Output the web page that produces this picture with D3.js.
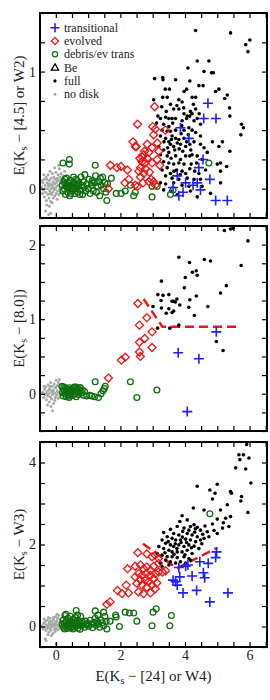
<!DOCTYPE html>
<html>
<head>
<meta charset="utf-8">
<script src="https://cdn.jsdelivr.net/npm/d3@7"></script>
<style>
  body { margin: 0; background: #fff; }
  text { font-family: "Liberation Serif", "Times New Roman", serif; }
</style>
</head>
<body>
<svg id="chart" width="270" height="700"></svg>
<script>
// ---- data ----
// shared x: E(Ks - [24] or W4)
const xTicks = [-0.5, 0, 0.5, 1, 1.5, 2, 2.5, 3, 3.5, 4, 4.5, 5, 5.5, 6, 6.5];
const xLabels = [0, 2, 4, 6];

// panel 1: E(Ks - [4.5] or W2)
const p1Transitional = [[4.71,0.73],[3.86,0.52],[4.58,0.60],[4.96,0.60],[4.12,0.43],[4.56,0.25],[4.43,0.18],[3.76,0.11],
  [4.77,0.08],[3.63,0.01],[4.02,0.05],[4.38,0.05],[4.25,0.03],[4.48,-0.01],[3.94,-0.03],[3.81,-0.06],[4.95,-0.10],[5.31,-0.10]];
const p1Evolved = [[3.06,0.70],[2.53,0.55],[3.08,0.51],[3.39,0.50],[3.03,0.46],[3.00,0.53],[2.39,0.40],[2.49,0.36],[2.46,0.36],
  [2.83,0.38],[3.14,0.39],[2.98,0.35],[3.19,0.32],[2.88,0.31],[2.72,0.29],[2.60,0.26],[2.83,0.26],[2.67,0.23],[2.77,0.22],
  [2.98,0.22],[3.14,0.25],[3.22,0.20],[2.62,0.18],[2.57,0.15],[2.72,0.13],[2.62,0.10],[2.53,0.02],[2.88,0.06],[2.95,0.08],
  [3.03,0.06],[3.08,0.03],[2.70,0.05],[2.46,0.03],[2.14,0.05],[2.26,0.08],[1.69,0.20],[1.89,0.18],[2.02,0.19],[2.22,0.16],
  [1.63,0.00],[2.75,0.32],[2.68,0.27],[2.90,0.14],[2.78,0.17]];
const p1Debris = [[0.22,0.22],[0.42,0.25],[0.42,0.21],[1.22,0.20],[1.58,-0.10],[1.87,-0.04],[2.02,-0.04],[2.15,-0.02],[2.31,0.03],
  [2.46,-0.03],[2.98,-0.07],[3.14,0.02],[3.55,-0.05],[3.63,-0.01],[4.74,0.22],[1.38,0.09],[1.12,0.05],[1.72,0.09],[2.41,-0.06],[2.98,0.02],
  [0.20,0.03],[0.22,-0.02],[0.25,0.06],[0.27,0.00],[0.30,-0.05],[0.31,0.04],[0.33,0.09],[0.35,0.01],[0.37,-0.03],[0.39,0.05],
  [0.41,0.02],[0.43,-0.06],[0.45,0.07],[0.47,0.00],[0.49,0.03],[0.51,-0.02],[0.53,0.05],[0.55,0.10],[0.57,0.01],[0.59,-0.04],
  [0.61,0.04],[0.63,0.00],[0.66,0.07],[0.68,-0.03],[0.70,0.02],[0.72,0.05],[0.75,-0.01],[0.78,0.10],[0.80,0.03],[0.83,-0.05],
  [0.85,0.06],[0.88,0.01],[0.90,0.12],[0.93,-0.02],[0.96,0.04],[1.00,0.00],[1.03,0.08],[1.06,-0.04],[1.10,0.03],[1.13,0.07],
  [1.16,-0.02],[1.20,0.05],[1.23,0.11],[1.26,-0.03],[1.30,0.02],[1.33,0.06],[1.36,-0.06],[1.40,0.03],[1.45,0.10],[1.48,0.00],
  [1.52,0.05],[1.55,-0.03],[1.60,0.04],[0.28,0.08],[0.46,-0.04],[0.62,0.08],[0.74,-0.05],[0.36,0.02],[0.52,0.01],[0.67,0.03]];
const p1Full = [[4.33,1.35],[5.41,1.33],[6.01,1.27],[5.88,1.23],[5.95,1.17],[4.38,1.09],[4.74,1.09],[4.09,1.03],[4.59,1.00],
  [4.82,0.99],[4.88,0.99],[3.06,0.94],[3.31,0.95],[3.32,0.93],[3.71,0.93],[4.15,0.92],[4.43,0.88],[4.56,0.88],[3.39,0.85],
  [3.52,0.85],[5.05,0.85],[4.95,0.83],[3.97,0.83],[4.05,0.85],[5.31,0.80],[3.03,0.76],[3.31,0.78],[3.45,0.78],[3.81,0.76],
  [3.91,0.74],[4.22,0.78],[4.33,0.78],[5.23,0.77],[5.38,0.69],[3.65,0.68],[3.81,0.68],[4.17,0.66],[4.33,0.68],[3.97,0.64],
  [4.07,0.62],[4.15,0.62],[4.22,0.64],[4.44,0.64],[5.39,0.62],[3.16,0.62],[3.24,0.60],[3.40,0.61],[3.50,0.60],[3.60,0.60],
  [3.71,0.60],[3.91,0.58],[4.05,0.60],[4.28,0.58],[4.38,0.60],[4.48,0.55],[5.75,0.55],[5.81,0.52],[5.73,0.46],[3.12,0.56],
  [3.34,0.55],[3.50,0.53],[3.29,0.50],[3.45,0.49],[3.55,0.49],[3.71,0.50],[3.97,0.50],[4.12,0.52],[4.22,0.50],[4.33,0.48],
  [4.48,0.45],[4.85,0.40],[5.16,0.40],[5.05,0.36],[5.39,0.32],[3.24,0.45],[3.40,0.43],[3.50,0.40],[3.60,0.45],[3.71,0.43],
  [3.81,0.42],[3.97,0.43],[3.55,0.38],[3.65,0.36],[3.76,0.39],[3.86,0.38],[4.02,0.36],[4.15,0.38],[4.48,0.38],[4.59,0.35],
  [3.19,0.36],[3.34,0.33],[3.50,0.31],[3.24,0.29],[3.45,0.28],[3.57,0.26],[3.71,0.28],[3.86,0.25],[4.02,0.28],[4.15,0.28],
  [4.22,0.29],[4.38,0.28],[4.53,0.25],[4.69,0.31],[3.34,0.23],[3.50,0.22],[3.65,0.21],[3.81,0.22],[3.97,0.21],[4.19,0.21],
  [4.36,0.22],[5.00,0.21],[5.10,0.22],[5.29,0.19],[3.29,0.16],[3.45,0.18],[3.55,0.13],[3.74,0.16],[3.91,0.15],[4.02,0.13],
  [4.15,0.17],[4.43,0.13],[4.64,0.16],[5.10,0.15],[3.40,0.11],[3.60,0.09],[3.81,0.08],[4.07,0.09],[4.28,0.08],[4.48,0.08],
  [3.24,0.05],[3.65,0.05],[3.91,0.03],[4.12,0.02],[4.53,0.02],[5.10,0.05],[3.34,-0.01],[3.55,-0.02],[3.76,-0.05],[4.17,-0.02],
  [4.79,-0.04],[4.38,-0.07],[3.62,0.56],[3.88,0.47],[4.10,0.46],[3.68,0.33],[3.93,0.32],[4.28,0.40],[3.42,0.66],[3.75,0.71],
  [3.35,0.40],[3.58,0.42],[3.82,0.34],[4.05,0.40],[3.28,0.70],[3.55,0.72],[3.96,0.69],[4.26,0.72],[3.46,0.35],[3.90,0.54],
  [4.18,0.33],[3.66,0.15],[3.85,0.12],[4.30,0.15],[3.40,0.04]];
const p1NoDisk = [[-0.44,0.01],[-0.41,-0.04],[-0.40,0.05],[-0.38,-0.01],[-0.36,0.08],[-0.35,-0.07],[-0.33,0.03],[-0.31,-0.03],
  [-0.30,0.10],[-0.29,-0.10],[-0.27,0.05],[-0.26,0.00],[-0.25,-0.05],[-0.24,0.12],[-0.22,0.02],[-0.21,-0.08],[-0.20,0.07],
  [-0.19,-0.02],[-0.18,0.15],[-0.17,0.04],[-0.16,-0.11],[-0.15,0.00],[-0.14,0.09],[-0.13,-0.05],[-0.12,0.03],[-0.11,0.13],
  [-0.10,-0.03],[-0.09,0.06],[-0.08,-0.08],[-0.07,0.01],[-0.06,0.10],[-0.05,-0.01],[-0.04,0.04],[-0.03,-0.06],[-0.02,0.08],
  [-0.01,0.00],[0.00,0.14],[0.01,-0.04],[0.02,0.05],[0.03,0.02],[0.04,-0.09],[0.05,0.09],[0.06,-0.02],[0.07,0.12],[0.08,0.03],
  [0.09,-0.05],[0.10,0.07],[0.11,0.17],[0.12,0.00],[0.13,0.10],[0.14,0.05],[0.15,-0.03],[0.16,0.13],[0.18,0.08],[0.20,0.02],
  [0.22,0.11],[0.25,0.06],[0.27,0.15],[-0.37,0.12],[-0.28,-0.14],[-0.20,-0.15],[-0.12,-0.12],[-0.04,0.18],[0.09,0.20],
  [-0.32,-0.19],[-0.22,-0.22],[-0.16,-0.21],[-0.43,0.07],[-0.34,0.00],[-0.23,0.04],[-0.11,0.01],[-0.06,0.05],[0.04,0.07],
  [-0.18,-0.04],[-0.28,0.08]];

// panel 2: E(Ks - [8.0])
const p2Transitional = [[4.97,0.83],[3.79,0.55],[4.43,0.47],[4.07,-0.24]];
const p2Evolved = [[2.54,1.21],[2.82,1.02],[2.59,0.92],[2.98,0.83],[2.75,0.74],[2.59,0.69],[2.98,0.62],[2.59,0.56],
  [2.62,0.50],[2.03,0.45],[2.15,0.49],[1.63,0.21]];
const p2Debris = [[0.19,0.10],[0.21,0.02],[0.23,-0.03],[0.26,0.05],[0.28,0.00],[0.30,0.08],[0.32,-0.04],[0.34,0.03],[0.36,0.06],
  [0.38,-0.01],[0.40,0.02],[0.42,0.08],[0.44,-0.03],[0.46,0.04],[0.48,0.01],[0.50,0.06],[0.52,-0.02],[0.54,0.03],[0.57,0.09],
  [0.59,0.00],[0.61,0.05],[0.63,-0.04],[0.66,0.02],[0.68,0.07],[0.70,-0.01],[0.73,0.04],[0.76,0.08],[0.79,0.01],[0.82,0.05],
  [0.86,-0.02],[0.89,0.03],[0.25,0.09],[0.41,-0.05],[0.55,0.08],[0.63,0.09],[0.75,0.08],[1.22,0.16],[2.31,0.16],[3.13,0.05],
  [2.51,-0.05],[1.53,0.10],[1.46,0.04],[1.32,-0.05],[1.11,-0.03],[0.96,-0.03],[1.40,0.00],[1.50,0.07],[1.20,-0.04],[1.05,-0.02]];
const p2Full = [[5.22,2.19],[5.41,2.21],[5.49,2.22],[5.95,2.05],[3.81,1.83],[4.14,1.76],[4.60,1.80],[4.79,1.78],[5.74,1.72],
  [4.23,1.63],[4.35,1.65],[4.38,1.59],[4.01,1.56],[3.27,1.51],[5.28,1.45],[3.98,1.42],[5.10,1.35],[3.16,1.33],[3.32,1.32],
  [3.50,1.33],[3.75,1.27],[4.15,1.26],[4.35,1.31],[3.26,1.25],[3.60,1.24],[3.65,1.24],[3.70,1.23],[3.84,1.19],[3.01,1.17],
  [3.27,1.15],[3.50,1.14],[4.12,1.16],[4.71,1.17],[3.42,1.08],[3.60,1.09],[3.65,1.11],[4.29,1.05],[3.15,0.88],[3.53,0.88],
  [3.81,0.92],[4.97,0.70],[5.18,0.58]];
const p2NoDisk = [[-0.40,0.02],[-0.37,-0.05],[-0.35,0.06],[-0.33,-0.01],[-0.31,0.09],[-0.29,-0.08],[-0.27,0.03],[-0.25,-0.03],
  [-0.24,0.12],[-0.22,0.00],[-0.20,-0.11],[-0.19,0.07],[-0.17,-0.04],[-0.16,0.15],[-0.14,0.02],[-0.13,-0.07],[-0.11,0.10],
  [-0.10,-0.01],[-0.08,0.05],[-0.07,-0.13],[-0.05,0.13],[-0.04,0.01],[-0.02,-0.05],[-0.01,0.08],[0.01,0.18],[0.02,-0.02],
  [0.04,0.04],[0.05,0.11],[0.07,-0.06],[0.08,0.15],[0.10,0.02],[0.11,0.19],[0.13,0.07],[0.15,-0.01],[0.17,0.12],[0.19,0.05],
  [-0.30,0.00],[-0.21,0.05],[-0.12,0.04],[-0.03,-0.09],[0.06,0.01],[-0.26,-0.15],[-0.15,-0.17],[-0.10,-0.23],[-0.36,0.10],
  [0.00,0.09],[-0.18,0.10],[0.12,-0.03],[-0.06,0.02]];
const p2Dash = [[2.72,1.27],[3.30,0.90],[5.60,0.90]];

// panel 3: E(Ks - W3)
const p3Transitional = [[4.98,1.82],[4.95,1.68],[4.72,1.54],[4.46,1.58],[4.02,1.47],[4.09,1.50],[4.57,1.31],[4.61,1.19],
  [4.22,1.23],[3.84,1.21],[3.63,1.13],[3.71,1.09],[3.76,1.01],[4.36,0.88],[3.94,0.82],[5.33,0.82],[4.77,0.60],[3.81,1.44]];
const p3Evolved = [[2.54,1.80],[2.82,1.77],[2.98,1.70],[3.08,1.74],[3.18,1.66],[2.22,1.41],[2.46,1.47],[2.62,1.50],[2.72,1.41],
  [2.82,1.45],[2.93,1.37],[3.03,1.47],[2.56,1.29],[2.67,1.25],[2.80,1.29],[2.93,1.25],[3.08,1.29],[2.46,1.21],[2.62,1.14],
  [2.77,1.13],[2.87,1.09],[3.03,1.17],[3.13,1.06],[2.51,1.05],[2.67,1.01],[2.82,0.96],[2.98,1.01],[3.08,0.92],[1.91,0.88],
  [2.18,1.01],[2.05,0.80],[2.25,0.82],[2.56,0.84],[2.72,0.80],[2.93,0.82],[1.68,0.60],[1.58,0.54],[3.18,1.33],[3.18,1.54],
  [3.30,1.33],[3.40,1.36]];
const p3Debris = [[0.20,0.05],[0.22,0.15],[0.24,-0.02],[0.26,0.08],[0.28,0.27],[0.30,0.00],[0.32,0.12],[0.34,0.04],[0.36,-0.05],
  [0.38,0.20],[0.40,0.07],[0.42,0.01],[0.44,0.14],[0.46,-0.03],[0.48,0.09],[0.50,0.04],[0.52,0.17],[0.54,-0.01],[0.56,0.10],
  [0.58,0.05],[0.60,0.22],[0.62,0.00],[0.64,0.12],[0.66,0.06],[0.68,-0.04],[0.70,0.15],[0.72,0.03],[0.74,0.09],[0.77,0.25],
  [0.80,0.02],[0.83,0.11],[0.86,0.06],[0.89,-0.02],[0.92,0.13],[0.95,0.04],[0.98,0.08],[1.02,0.01],[1.06,0.15],[1.10,0.06],
  [1.14,-0.03],[1.18,0.10],[1.22,0.20],[1.25,0.03],[1.28,0.12],[1.32,0.07],[1.36,-0.02],[1.40,0.16],[1.44,0.09],[1.48,0.02],
  [1.52,0.25],[1.56,0.12],[0.31,0.30],[0.45,0.25],[0.67,0.28],[1.30,0.28],[0.27,-0.06],[0.53,-0.06],[0.75,-0.07],
  [0.63,0.39],[1.22,0.38],[1.48,0.35],[1.68,0.13],[1.87,0.23],[1.58,-0.06],[1.97,0.00],[2.15,0.35],[2.28,0.33],[2.41,0.33],
  [2.51,0.13],[2.98,0.02],[3.11,0.43],[3.01,0.35],[3.58,0.27],[3.53,0.02],[4.77,2.75],[1.85,0.28]];
const p3Full = [[5.91,4.44],[5.67,4.19],[5.81,4.19],[5.70,4.07],[5.98,4.11],[5.57,3.87],[5.88,3.84],[6.04,3.50],[5.00,3.47],
  [4.38,3.42],[4.77,3.33],[4.93,3.25],[5.41,3.29],[5.44,3.25],[4.85,3.11],[5.75,3.17],[5.73,3.06],[5.31,2.97],[5.10,2.84],
  [4.26,2.89],[4.59,2.84],[5.26,2.64],[5.41,2.68],[5.95,2.78],[3.91,2.70],[4.07,2.60],[5.00,2.62],[5.19,2.53],[5.36,2.44],
  [5.16,2.40],[3.84,2.56],[4.28,2.48],[4.38,2.42],[4.17,2.44],[4.48,2.35],[4.69,2.31],[4.90,2.34],[5.00,2.27],[3.76,2.44],
  [3.97,2.40],[3.55,2.37],[3.65,2.27],[3.81,2.23],[4.07,2.27],[4.22,2.23],[4.38,2.19],[4.59,2.15],[4.74,2.19],[3.34,2.29],
  [3.45,2.19],[3.60,2.15],[3.71,2.11],[3.86,2.11],[4.02,2.13],[4.17,2.11],[4.33,2.07],[4.48,2.11],[3.29,2.11],[3.40,2.03],
  [3.55,1.99],[3.65,1.95],[3.81,1.99],[3.97,1.95],[4.12,1.99],[4.28,1.96],[4.43,1.90],[3.19,1.95],[3.34,1.90],[3.50,1.86],
  [3.60,1.82],[3.76,1.82],[3.91,1.82],[4.07,1.86],[4.22,1.78],[3.14,1.78],[3.29,1.74],[3.45,1.70],[3.60,1.70],[3.76,1.68],
  [3.97,1.70],[4.12,1.66],[3.40,1.62],[3.55,1.58],[3.71,1.55],[3.86,1.58],[3.24,1.54],[3.29,1.46],[3.50,1.50],[4.02,1.54],
  [4.17,1.62],[3.70,2.02],[3.88,2.05],[4.05,2.05],[3.93,2.32],[4.12,2.35],[4.30,2.30],[3.48,2.07],[3.75,1.90],[4.20,1.92],
  [4.55,2.25],[4.62,2.45],[4.85,2.50],[3.92,2.18],[4.52,2.02],[3.38,1.80],[4.00,1.75],[3.66,1.76],[4.32,2.38]];
const p3NoDisk = [[-0.42,0.02],[-0.39,-0.06],[-0.37,0.08],[-0.35,-0.02],[-0.33,0.12],[-0.31,-0.10],[-0.29,0.04],[-0.27,-0.04],
  [-0.26,0.16],[-0.24,0.00],[-0.22,-0.14],[-0.21,0.09],[-0.19,-0.05],[-0.18,0.20],[-0.16,0.03],[-0.15,-0.09],[-0.13,0.13],
  [-0.12,-0.01],[-0.10,0.07],[-0.09,-0.17],[-0.07,0.17],[-0.06,0.01],[-0.04,-0.07],[-0.03,0.10],[-0.01,0.24],[0.00,-0.03],
  [0.02,0.05],[0.03,0.14],[0.05,-0.08],[0.06,0.20],[0.08,0.03],[0.09,0.27],[0.11,0.09],[0.13,-0.02],[0.15,0.15],[0.17,0.06],
  [-0.30,0.00],[-0.20,0.06],[-0.11,0.05],[-0.02,-0.12],[0.07,0.01],[-0.25,-0.20],[-0.14,-0.22],[-0.36,0.18],[0.01,0.11],
  [-0.17,0.13],[0.12,-0.05],[-0.05,0.03],[-0.33,-0.30],[-0.30,-0.34],[0.01,-0.42],[-0.08,0.22],[-0.23,0.22],[0.04,0.30]];
const p3Dash = [[2.70,2.02],[3.75,1.42],[5.00,1.92]];

// ---- layout ----
const svg = d3.select("#chart");
const left = 40, right = 267, ph = 205;
const x = d3.scaleLinear().domain([-0.49, 6.54]).range([left, right]);

const colors = {trans: "#1f1fff", evolved: "#f01414", debris: "#0f6e0f", full: "#000", nodisk: "#a8a8a8"};
const FONT = '"Liberation Serif", "Times New Roman", serif';

function steps(a, b, s) {
  const n = Math.round((b - a) / s);
  return d3.range(n + 1).map(i => +(a + i * s).toFixed(3));
}

const panels = [
  {top: 13, dom: [-0.25, 1.5], step: 0.25, labels: [0, 1], ytxt: " \u2212 [4.5] or W2)",
   tr: p1Transitional, ev: p1Evolved, db: p1Debris, fu: p1Full, nd: p1NoDisk, dash: null},
  {top: 226, dom: [-0.5, 2.25], step: 0.25, labels: [0, 1, 2], ytxt: " \u2212 [8.0])",
   tr: p2Transitional, ev: p2Evolved, db: p2Debris, fu: p2Full, nd: p2NoDisk, dash: p2Dash},
  {top: 442, dom: [-0.5, 4.5], step: 0.5, labels: [0, 2, 4], ytxt: " \u2212 W3)",
   tr: p3Transitional, ev: p3Evolved, db: p3Debris, fu: p3Full, nd: p3NoDisk, dash: p3Dash}
];

const diamond = s => `M0,${-s}L${s},0L0,${s}L${-s},0Z`;
const plus = s => `M${-s},0H${s}M0,${-s}V${s}`;

panels.forEach((p, i) => {
  const y = d3.scaleLinear().domain(p.dom).range([p.top + ph, p.top]);
  const g = svg.append("g");
  const clipId = "clip" + i;
  svg.append("clipPath").attr("id", clipId).append("rect")
    .attr("x", left).attr("y", p.top).attr("width", right - left).attr("height", ph);
  const plot = g.append("g").attr("clip-path", `url(#${clipId})`);

  if (p.dash) {
    plot.append("path")
      .attr("d", d3.line().x(d => x(d[0])).y(d => y(d[1]))(p.dash))
      .attr("fill", "none").attr("stroke", colors.evolved)
      .attr("stroke-width", 2.5).attr("stroke-dasharray", "9,5");
  }

  plot.selectAll(".fu").data(p.fu).join("circle")
    .attr("cx", d => x(d[0])).attr("cy", d => y(d[1])).attr("r", 1.8).attr("fill", colors.full);
  plot.selectAll(".nd").data(p.nd).join("circle")
    .attr("cx", d => x(d[0])).attr("cy", d => y(d[1])).attr("r", 1.5).attr("fill", colors.nodisk);
  plot.selectAll(".db").data(p.db).join("circle")
    .attr("cx", d => x(d[0])).attr("cy", d => y(d[1])).attr("r", 2.9)
    .attr("fill", "none").attr("stroke", colors.debris).attr("stroke-width", 1.3);
  plot.selectAll(".ev").data(p.ev).join("path")
    .attr("transform", d => `translate(${x(d[0])},${y(d[1])})`).attr("d", diamond(4))
    .attr("fill", "none").attr("stroke", colors.evolved).attr("stroke-width", 1.3);
  plot.selectAll(".tr").data(p.tr).join("path")
    .attr("transform", d => `translate(${x(d[0])},${y(d[1])})`).attr("d", plus(5))
    .attr("fill", "none").attr("stroke", colors.trans).attr("stroke-width", 1.6);

  // axes, ticks pointing inward on all four sides
  const yTicks = steps(p.dom[0], p.dom[1], p.step);
  const yFmt = v => p.labels.includes(v) ? d3.format("d")(v) : "";
  const xFmt = v => (i === 2 && xLabels.includes(v)) ? d3.format("d")(v) : "";
  const axes = [
    g.append("g").attr("transform", `translate(${left},0)`)
      .call(d3.axisLeft(y).tickValues(yTicks).tickSizeInner(-5).tickSizeOuter(0).tickPadding(4).tickFormat(yFmt)),
    g.append("g").attr("transform", `translate(${right},0)`)
      .call(d3.axisRight(y).tickValues(yTicks).tickSizeInner(-5).tickSizeOuter(0).tickFormat("")),
    g.append("g").attr("transform", `translate(0,${p.top + ph})`)
      .call(d3.axisBottom(x).tickValues(xTicks).tickSizeInner(-5).tickSizeOuter(0).tickPadding(3).tickFormat(xFmt)),
    g.append("g").attr("transform", `translate(0,${p.top})`)
      .call(d3.axisTop(x).tickValues(xTicks).tickSizeInner(-5).tickSizeOuter(0).tickFormat(""))
  ];
  axes.forEach(a => {
    a.select(".domain").remove();
    a.selectAll(".tick line").attr("stroke", "#000").attr("stroke-width", 1.2);
    a.selectAll(".tick text").attr("font-size", 14).attr("fill", "#222").style("font-family", FONT);
  });

  g.append("rect").attr("x", left).attr("y", p.top).attr("width", right - left).attr("height", ph)
    .attr("fill", "none").attr("stroke", "#000").attr("stroke-width", 2);

  // y title
  const t = g.append("text")
    .attr("transform", `translate(24,${p.top + ph / 2}) rotate(-90)`)
    .attr("text-anchor", "middle").attr("font-size", 15).attr("fill", "#222");
  t.append("tspan").text("E(K");
  t.append("tspan").attr("font-size", 10).attr("dy", 3).text("s");
  t.append("tspan").attr("dy", -3).text(p.ytxt);
});

// x title
const xt = svg.append("text").attr("x", (left + right) / 2).attr("y", 681)
  .attr("text-anchor", "middle").attr("font-size", 15).attr("fill", "#222");
xt.append("tspan").text("E(K");
xt.append("tspan").attr("font-size", 10).attr("dy", 3).text("s");
xt.append("tspan").attr("dy", -3).text(" \u2212 [24] or W4)");

// legend in top panel
const legendNames = ["transitional", "evolved", "debris/ev trans", "Be", "full", "no disk"];
const leg = svg.append("g");
legendNames.forEach((name, k) => {
  const cy = 27.7 + k * 13.3;
  const sx = 55;
  if (k === 0) leg.append("path").attr("transform", `translate(${sx},${cy})`).attr("d", plus(4.5))
    .attr("stroke", colors.trans).attr("stroke-width", 1.6).attr("fill", "none");
  if (k === 1) leg.append("path").attr("transform", `translate(${sx},${cy})`).attr("d", diamond(3.6))
    .attr("stroke", colors.evolved).attr("stroke-width", 1.3).attr("fill", "none");
  if (k === 2) leg.append("circle").attr("cx", sx).attr("cy", cy).attr("r", 2.6)
    .attr("stroke", colors.debris).attr("stroke-width", 1.2).attr("fill", "none");
  if (k === 3) leg.append("path").attr("transform", `translate(${sx},${cy})`).attr("d", "M0,-3.8L3.6,2.6L-3.6,2.6Z")
    .attr("stroke", "#000").attr("stroke-width", 1.3).attr("fill", "none");
  if (k === 4) leg.append("circle").attr("cx", sx).attr("cy", cy).attr("r", 1.6).attr("fill", colors.full);
  if (k === 5) leg.append("circle").attr("cx", sx).attr("cy", cy).attr("r", 1.5).attr("fill", colors.nodisk);
  leg.append("text").attr("x", 64).attr("y", cy + 4).attr("font-size", 12).attr("fill", "#222").text(name);
});
</script>
</body>
</html>
